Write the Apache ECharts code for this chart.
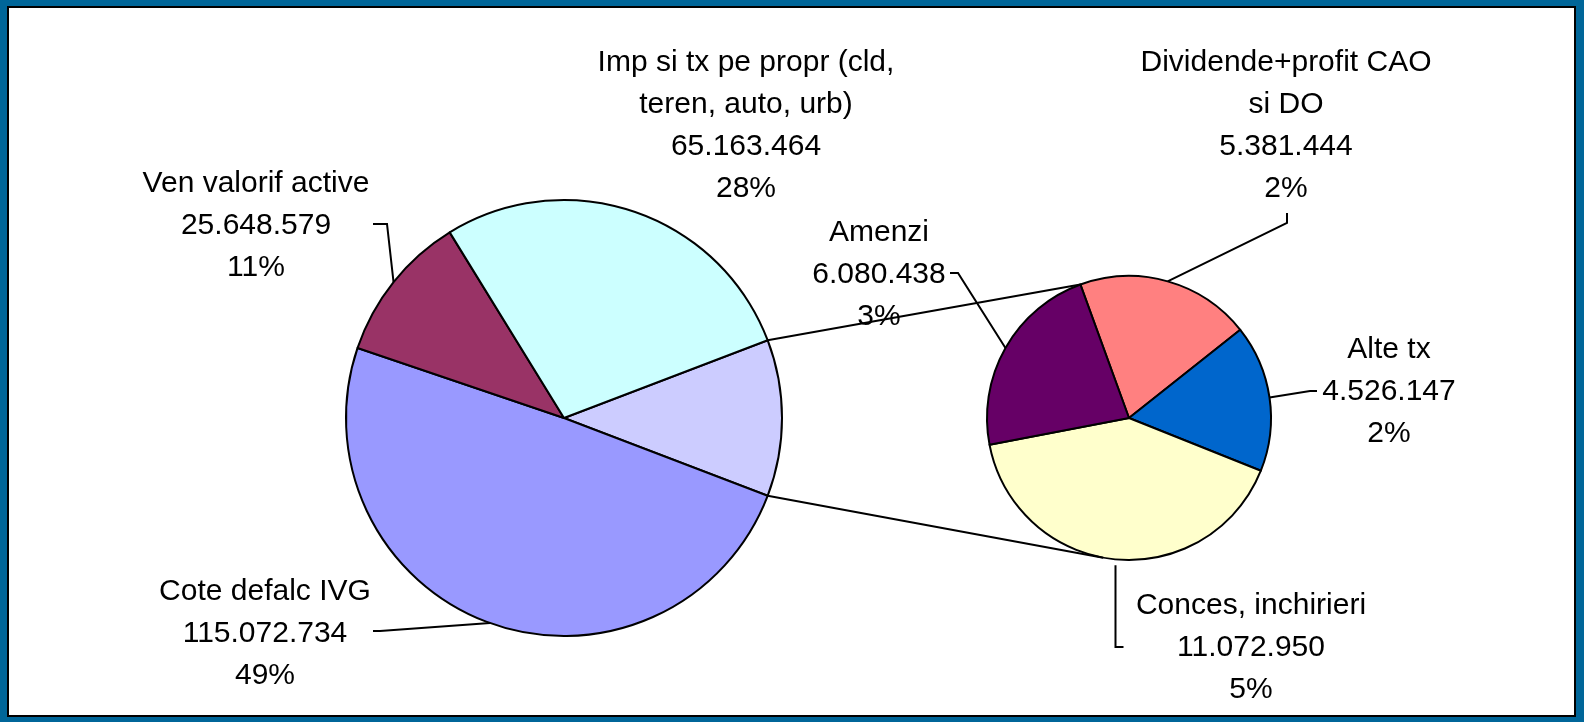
<!DOCTYPE html>
<html><head><meta charset="utf-8">
<script src="https://cdn.jsdelivr.net/npm/echarts@6/dist/echarts.min.js"></script>
<style>
html,body{margin:0;padding:0;width:1584px;height:722px;background:#006699;overflow:hidden}
#frame{position:absolute;left:7px;top:6px;width:1569px;height:711px;box-sizing:border-box;border:2px solid #000;background:#fff}
#chart{position:absolute;left:0;top:0;width:1584px;height:722px}
</style></head><body><div id="frame"></div><div id="chart"></div>
<script>
// ---- data ----
const mainNames = ['Cote defalc IVG', 'Ven valorif active', 'Imp si tx pe propr (cld,\nteren, auto, urb)'];
const mainValues = [115072734, 25648579, 65163464];
const subNames = ['Dividende+profit CAO\nsi DO', 'Alte tx', 'Conces, inchirieri', 'Amenzi'];
const subValues = [5381444, 4526147, 11072950, 6080438];

// ---- styles / layout ----
const mainColors = ['#9999FF', '#993366', '#CCFFFF'];
const otherColor = '#CCCCFF';
const subColors = ['#FF8080', '#0066CC', '#FFFFCC', '#660066'];
const M = {cx: 564, cy: 418, r: 218};
const S = {cx: 1129, cy: 418, r: 142};
const subStart = 110;

const sum = a => a.reduce((s, v) => s + v, 0);
const otherSum = sum(subValues);
const total = sum(mainValues) + otherSum;
const mainStart = otherSum / total * 360 / 2;
const fmt = v => String(v).replace(/\B(?=(\d{3})+(?!\d))/g, '.');
const pct = v => Math.round(v / total * 100) + '%';
const rad = d => d * Math.PI / 180;
const pt = (c, deg, r) => [c.cx + (r || c.r) * Math.cos(rad(deg)), c.cy - (r || c.r) * Math.sin(rad(deg))];

function midAngles(start, vals, tot) {
  let a = start; const out = [];
  vals.forEach(v => { const span = v / tot * 360; out.push(a - span / 2); a -= span; });
  return out;
}
const mainVals = [otherSum].concat(mainValues);
const mainMids = midAngles(mainStart, mainVals, total);
const subMids = midAngles(subStart, subValues, otherSum);

// label placements (block centers) and leader bends
const mainLab = [null,
  {x: 265, y: 634, line: e => [e, [380, 631], [373, 631]]},
  {x: 256, y: 226, line: e => [e, [387, 224], [373, 224]]},
  {x: 746, y: 126, line: null}
];
const subLab = [
  {x: 1286, y: 126, line: e => [e, [1287, 223], [1287, 213]]},
  {x: 1389, y: 392, line: e => [e, [1310, 391], [1317, 391]]},
  {x: 1251, y: 648, line: e => [[e[0], e[1] + 6], [e[0], 647], [e[0] + 8, 647]]},
  {x: 879, y: 275, line: e => [e, [958, 273], [950, 273]]}
];

const labelStyle = {
  show: true, color: '#000', fontFamily: '"Liberation Sans", Arial, sans-serif',
  fontSize: 30, lineHeight: 42, align: 'center',
  formatter: p => p.name + '\n' + fmt(p.value) + '\n' + pct(p.value)
};

const mainData = [{name: 'other', value: otherSum, itemStyle: {color: otherColor}, label: {show: false}, labelLine: {show: false}}]
  .concat(mainValues.map((v, i) => ({name: mainNames[i], value: v, itemStyle: {color: mainColors[i]},
    labelLine: {show: !!mainLab[i + 1].line}})));
const subData = subValues.map((v, i) => ({name: subNames[i], value: v, itemStyle: {color: subColors[i]}}));

function makeLayout(labs, mids, c) {
  return function (p) {
    const L = labs[p.dataIndex];
    if (!L) return {};
    const res = {x: L.x, y: L.y, align: 'center', verticalAlign: 'middle'};
    if (L.line) res.labelLinePoints = L.line(pt(c, mids[p.dataIndex]));
    return res;
  };
}

// connector lines between the pies
const p1 = pt(M, mainStart);
const p2 = pt(M, -mainStart);
const q1 = pt(S, subStart);
const vx = p2[0] - S.cx, vy = S.cy - p2[1];
const th = Math.atan2(vy, vx) + Math.acos(S.r / Math.hypot(vx, vy));
const q2 = [S.cx + S.r * Math.cos(th), S.cy - S.r * Math.sin(th)];

const chart = echarts.init(document.getElementById('chart'), null, {renderer: 'canvas'});
chart.setOption({
  animation: false,
  backgroundColor: 'transparent',
  series: [{
    type: 'pie', center: [M.cx, M.cy], radius: [0, M.r], startAngle: mainStart, clockwise: true,
    avoidLabelOverlap: false, silent: true, emphasis: {disabled: true},
    itemStyle: {borderColor: '#000', borderWidth: 2},
    label: labelStyle, labelLine: {show: true, lineStyle: {color: '#000', width: 2}},
    labelLayout: makeLayout(mainLab, mainMids, M),
    data: mainData
  }, {
    type: 'pie', center: [S.cx, S.cy], radius: [0, S.r], startAngle: subStart, clockwise: true,
    avoidLabelOverlap: false, silent: true, emphasis: {disabled: true},
    itemStyle: {borderColor: '#000', borderWidth: 2},
    label: labelStyle, labelLine: {show: true, lineStyle: {color: '#000', width: 2}},
    labelLayout: makeLayout(subLab, subMids, S),
    data: subData
  }],
  graphic: [
    {type: 'polyline', z: 100, shape: {points: [p1, q1]}, style: {stroke: '#000', lineWidth: 2, fill: null}},
    {type: 'polyline', z: 100, shape: {points: [p2, q2]}, style: {stroke: '#000', lineWidth: 2, fill: null}}
  ]
});
</script></body></html>
